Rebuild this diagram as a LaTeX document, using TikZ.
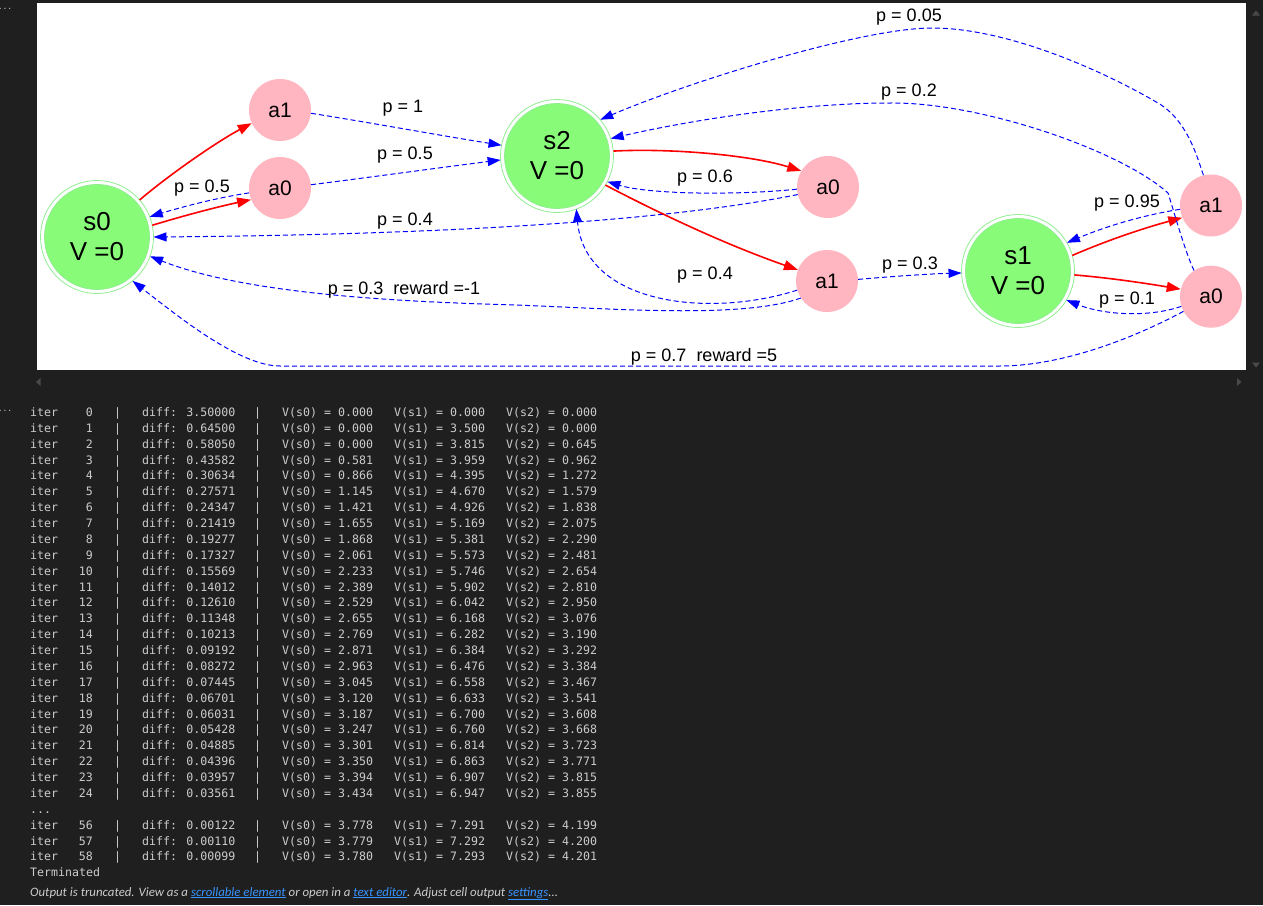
\documentclass[tikz,border=0pt]{standalone}
\usepackage{fontspec}
\setmainfont{Liberation Sans}
\newfontfamily\monof{DejaVu Sans Mono}
\newfontfamily\uif{Carlito}
\usetikzlibrary{arrows.meta}
\definecolor{bg}{HTML}{1F1F1F}
\definecolor{sgreen}{HTML}{88FB78}
\definecolor{ringc}{HTML}{90EE90}
\definecolor{apink}{HTML}{FFB6C1}
\definecolor{outtxt}{HTML}{CCCCCC}
\definecolor{linkc}{HTML}{3794FF}
\definecolor{scrollc}{HTML}{4A4A4A}
\tikzset{
  state/.style={circle, fill=sgreen, draw=ringc, line width=0.8pt, minimum size=105pt, inner sep=0pt, outer sep=4pt, align=center, font=\fontsize{26}{30}\selectfont},
  ringline/.style={draw=ringc, line width=0.8pt},
  action/.style={circle, fill=apink, minimum size=62pt, inner sep=0pt, font=\fontsize{21}{24}\selectfont},
  act/.style={draw=red, line width=1.6pt, -{Triangle[length=14pt,width=10pt]}},
  trans/.style={draw=blue, line width=1pt, dash pattern=on 5pt off 3pt, -{Triangle[length=13pt,width=9pt]}},
  lbl/.style={font=\fontsize{18}{20}\selectfont, inner sep=0pt},
  mono/.style={font=\monof\fontsize{11.6}{14}\selectfont, text=outtxt, inner sep=0pt, anchor=base west},
  arrowmark/.style={fill=scrollc, draw=none}
}
\begin{document}
\begin{tikzpicture}[x=1pt,y=-1pt]
\useasboundingbox (0,0) rectangle (1263,905);
\fill[bg] (0,0) rectangle (1263,905);
\fill[white] (37,3) rectangle (1246,370);
% scroll arrows
\fill[arrowmark] (1252,15.5) -- (1260,15.5) -- (1256,10.5) -- cycle;
\fill[arrowmark] (1252,362.5) -- (1260,362.5) -- (1256,367.5) -- cycle;
\fill[arrowmark] (40.5,378) -- (40.5,386) -- (36,382) -- cycle;
\fill[arrowmark] (1237,378) -- (1237,386) -- (1241.5,382) -- cycle;
\node[mono, font=\monof\fontsize{8}{9}\selectfont, anchor=center] (dots1) at (5,9) {...};
\node[mono, font=\monof\fontsize{8}{9}\selectfont, anchor=center] (dots2) at (5,411) {...};

% graph nodes
\node[state] (s0) at (97,237) {s0\\V =0};
\node[state] (s2) at (557,156) {s2\\V =0};
\node[state] (s1) at (1018,271) {s1\\V =0};
\foreach \s in {s0,s1,s2} \draw[ringline] (\s.center) circle (56.5pt);
\node[action] (a1L) at (280,110) {a1};
\node[action] (a0L) at (280,188) {a0};
\node[action] (a0M) at (828,187) {a0};
\node[action] (a1M) at (827,281) {a1};
\node[action] (a1R) at (1211,205.5) {a1};
\node[action] (a0R) at (1211,296.7) {a0};

% edges
\draw[act] (s0.41) .. controls +(33,-28) and +(-32,17) .. (a1L.205);
\draw[act] (s0.12) .. controls +(33,-10) and +(-33,7) .. (a0L.202);
\draw[trans] (a0L.189) .. controls +(-33,5) and +(33,-10) .. (s0.21);
\draw[trans] (a1L.-6) .. controls +(63,10) and +(-63,-10) .. (s2.169);
\draw[trans] (a0L.6) .. controls +(63,-8) and +(-63,8) .. (s2.184);
\draw[trans] (a0M.194) .. controls +(-148,30) and +(247,-2) .. (s0.0);
\draw[act] (s2.5) .. controls +(57,-3) and +(-51,-16) .. (a0M.149);
\draw[trans] (a0M.184) .. controls +(-57,6) and +(43,13) .. (s2.-27);
\draw[act] (s2.-31) .. controls +(63,33) and +(-66,-23) .. (a1M.159);
\draw[trans] (a1M.197) .. controls +(-87,28) and +(9,96) .. (s2.-70);
\draw[trans] (a1M.213) .. controls +(-61,22) and (600,307.5) .. (500,304.5) .. controls (380,301) and (240,292) .. (s0.-20);
\draw[trans] (a1M.3) .. controls +(35,-3) and +(-35,1) .. (s1.182);
\draw[act] (s1.16) .. controls +(37,-16) and +(-37,10) .. (a1R.203);
\draw[trans] (a1R.187) .. controls +(-38,6) and +(38,-16) .. (s1.30);
\draw[act] (s1.-4) .. controls +(36,3) and +(-36,-6) .. (a0R.166);
\draw[trans] (a0R.198) .. controls +(-35,12) and +(35,14) .. (s1.-31);
\draw[trans] (a1R.104) .. controls (1198,160) and (1188,120.5) .. (1158,103) .. controls (1098,68) and (1005,28) .. (932,28) .. controls (862,28) and (691,81) .. (s2.40);
\draw[trans] (a0R.123) .. controls (1185,252) and (1172,205) .. (1168,193) .. controls (1120,150) and (980,102) .. (890,103) .. controls (800,103) and (691,120) .. (s2.18);
\draw[trans] (a0R.208) .. controls (1130,340) and (1060,366) .. (1000,366) -- (280,366) .. controls (240,366) and (180,318) .. (s0.-51);

% edge labels
\node[lbl] (l1) at (202,188) {p = 0.5};
\node[lbl] (l2) at (403,108) {p = 1};
\node[lbl] (l3) at (405,155) {p = 0.5};
\node[lbl] (l4) at (405,221) {p = 0.4};
\node[lbl] (l5) at (705,178) {p = 0.6};
\node[lbl] (l6) at (705,275) {p = 0.4};
\node[lbl] (l7) at (404,290) {p = 0.3\ \ reward =-1};
\node[lbl] (l8) at (910,265) {p = 0.3};
\node[lbl] (l9) at (1127,203) {p = 0.95};
\node[lbl] (l10) at (1127,300) {p = 0.1};
\node[lbl] (l11) at (909,17) {p = 0.05};
\node[lbl] (l12) at (909,92) {p = 0.2};
\node[lbl] (l13) at (704,357) {p = 0.7\ \ reward =5};

% text output
\foreach \k/\n/\df/\va/\vb/\vc in {
0/0/3.50000/0.000/0.000/0.000,
1/1/0.64500/0.000/3.500/0.000,
2/2/0.58050/0.000/3.815/0.645,
3/3/0.43582/0.581/3.959/0.962,
4/4/0.30634/0.866/4.395/1.272,
5/5/0.27571/1.145/4.670/1.579,
6/6/0.24347/1.421/4.926/1.838,
7/7/0.21419/1.655/5.169/2.075,
8/8/0.19277/1.868/5.381/2.290,
9/9/0.17327/2.061/5.573/2.481,
10/10/0.15569/2.233/5.746/2.654,
11/11/0.14012/2.389/5.902/2.810,
12/12/0.12610/2.529/6.042/2.950,
13/13/0.11348/2.655/6.168/3.076,
14/14/0.10213/2.769/6.282/3.190,
15/15/0.09192/2.871/6.384/3.292,
16/16/0.08272/2.963/6.476/3.384,
17/17/0.07445/3.045/6.558/3.467,
18/18/0.06701/3.120/6.633/3.541,
19/19/0.06031/3.187/6.700/3.608,
20/20/0.05428/3.247/6.760/3.668,
21/21/0.04885/3.301/6.814/3.723,
22/22/0.04396/3.350/6.863/3.771,
23/23/0.03957/3.394/6.907/3.815,
24/24/0.03561/3.434/6.947/3.855,
26/56/0.00122/3.778/7.291/4.199,
27/57/0.00110/3.779/7.292/4.200,
28/58/0.00099/3.780/7.293/4.201}{
  \pgfmathsetmacro{\yy}{416.5+15.87*\k}
  \node[mono] (it\k) at (30,\yy) {iter};
  \node[mono, anchor=base east] (n\k) at (93,\yy) {\n};
  \node[mono] (pa\k) at (114,\yy) {|};
  \node[mono] (df\k) at (142,\yy) {diff: \df};
  \node[mono] (pb\k) at (254,\yy) {|};
  \node[mono] (va\k) at (282,\yy) {V(s0) = \va};
  \node[mono] (vb\k) at (394,\yy) {V(s1) = \vb};
  \node[mono] (vc\k) at (506,\yy) {V(s2) = \vc};
}
\node[mono] (ell) at (30,813.3) {...};
\node[mono] (term) at (30,876.7) {Terminated};
\node[anchor=base west, inner sep=0pt, text=outtxt, font=\uif\itshape\fontsize{12.85}{14}\selectfont] (trunc) at (30,896) {Output is truncated. View as a \textcolor{linkc}{\underline{scrollable element}} or open in a \textcolor{linkc}{\underline{text editor}}. Adjust cell output \textcolor{linkc}{\underline{settings}}...};
\end{tikzpicture}
\end{document}
